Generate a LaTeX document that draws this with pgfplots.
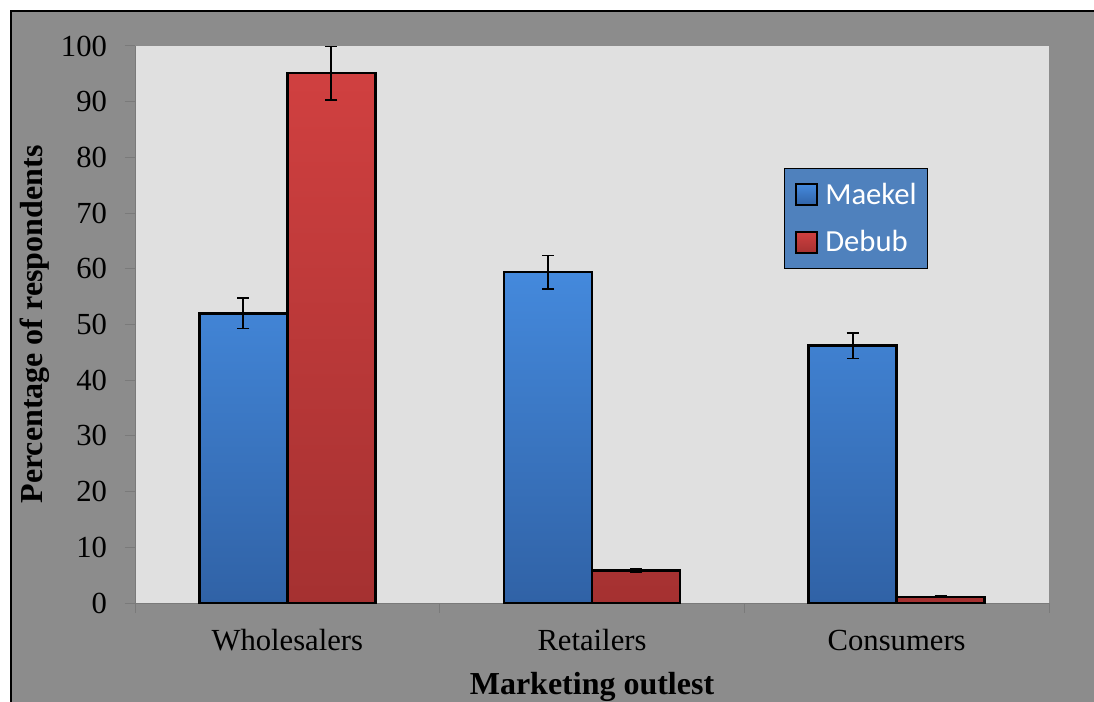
\documentclass[border=0pt]{standalone}
\usepackage{fontspec}
\setmainfont{Liberation Serif}
\newfontfamily\carlito{Carlito}
\usepackage{pgfplots}
\pgfplotsset{compat=1.18}
\definecolor{bgGray}{HTML}{8C8C8C}
\definecolor{plotGray}{HTML}{E0E0E0}
\definecolor{tickGray}{HTML}{7A7A7A}
\definecolor{legBlue}{HTML}{4F81BD}
\definecolor{blueTop}{HTML}{4489DC}
\definecolor{blueBot}{HTML}{3062A6}
\definecolor{redTop}{HTML}{D04040}
\definecolor{redBot}{HTML}{A53131}

\pgfplotstableread{
x y e
0 52.0 2.7
1 59.4 3.0
2 46.2 2.3
}\maekel
\pgfplotstableread{
x y e
0 95.1 4.8
1 5.8 0.3
2 1.1 0.1
}\debub

\begin{document}
\begin{tikzpicture}
\useasboundingbox (0,0) rectangle (820.5pt,526.5pt);
\fill[white] (-20pt,-20pt) rectangle (840pt,546pt);
\fill[bgGray] (8.25pt,-20pt) rectangle (840pt,518.25pt);
\draw[black, line width=1.5pt] (8.25pt,-20pt) -- (8.25pt,518.25pt) -- (840pt,518.25pt);
\begin{axis}[
  at={(101.25pt,74.25pt)}, anchor=south west,
  scale only axis, width=685.5pt, height=417.75pt,
  axis background/.style={fill=plotGray},
  xmin=-0.5, xmax=2.5, ymin=0, ymax=100,
  ytick={0,10,...,100},
  xtick={0,1,2}, xticklabels={Wholesalers,Retailers,Consumers},
  minor xtick={-0.5,0.5,1.5,2.5},
  axis x line*=bottom, axis y line*=left,
  axis line style={tickGray, line width=0.75pt},
  tick align=outside,
  major tick length=7.5pt, minor tick length=7.5pt,
  tick style={tickGray, line width=0.75pt},
  major x tick style={draw=none},
  /pgf/number format/assume math mode=true,
  ticklabel style={font=\fontsize{23}{27}\selectfont, text=black},
  yticklabel style={xshift=-10pt},
  xticklabel style={yshift=-9pt},
  xlabel={Marketing outlest},
  ylabel={Percentage of respondents},
  label style={font=\bfseries\fontsize{24}{28}\selectfont},
  xlabel style={at={(axis description cs:0.5,-0.1634)}, anchor=base},
  ylabel style={at={(axis description cs:-0.1094,0.5)}, anchor=center},
  ybar=0pt, bar width=66pt,
  legend cell align=left,
  legend style={at={(rel axis cs:0.710,0.781)}, anchor=north west,
    fill=legBlue, draw=black, line width=1pt,
    font=\carlito\fontsize{23}{27}\selectfont, text=white,
    inner xsep=8pt, inner ysep=11pt, row sep=18pt,
    nodes={inner sep=0pt},
    /tikz/every odd column/.append style={column sep=5.25pt}},
  every axis plot post/.append style={
    legend image code/.code={\draw[##1, line width=1.5pt] (0pt,-7.875pt) rectangle (15.75pt,7.875pt);}},
  error bars/y dir=both, error bars/y explicit,
  error bars/error bar style={black, line width=1.3pt},
  error bars/error mark options={black, rotate=90, mark size=4.5pt, line width=1.3pt},
]
\addplot[draw=black, line width=1.8pt, top color=blueTop, bottom color=blueBot]
  table[x=x, y=y, y error=e] {\maekel};
\addplot[draw=black, line width=1.8pt, top color=redTop, bottom color=redBot]
  table[x=x, y=y, y error=e] {\debub};
\legend{Maekel, Debub}
\end{axis}
\end{tikzpicture}
\end{document}
